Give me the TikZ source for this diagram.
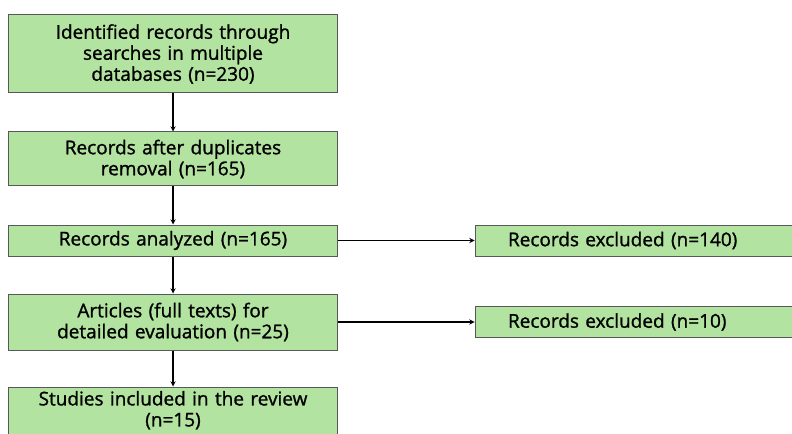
\documentclass[tikz,border=0pt]{standalone}
\usepackage{fontspec}
\setmainfont{Open Sans}[FakeBold=1.2, AutoFakeBold=1.2]
\usetikzlibrary{positioning}
\definecolor{boxGreen}{HTML}{B3E3A0}
\definecolor{boxEdge}{HTML}{585858}

\begin{document}
\begin{tikzpicture}[x=1bp, y=-1bp,
    node distance=37bp,
    stagebox/.style={fill=boxGreen, draw=boxEdge, line width=1bp,
                     minimum width=328bp, text width=320bp, align=center,
                     inner xsep=4bp, inner ysep=2bp,
                     font=\fontsize{19bp}{21bp}\selectfont\bfseries},
    exclbox/.style={stagebox, minimum width=0bp, text width=300bp,
                    align=left, inner xsep=33bp, minimum height=31bp},
    arrow/.style={->, >=stealth, line width=1.3bp}
]
\useasboundingbox (0,0) rectangle (792,434);
\node[stagebox, minimum height=78bp] (b1) at (173,54) {Identified records through\\
    searches in multiple\\ databases (n=230)};
\node[stagebox, minimum height=54bp, below=38bp of b1] (b2) {Records after duplicates\\
    removal (n=165)};
\node[stagebox, minimum height=31bp, below=38bp of b2] (b3) {Records analyzed (n=165)};
\node[stagebox, minimum height=56bp, below=of b3] (b4) {Articles (full texts) for\\
    detailed evaluation (n=25)};
% bottom of this box runs off the page
\node[stagebox, inner ysep=4bp, text depth=40bp, below=36bp of b4] (b5) {Studies included in the review\\
    (n=15)};
\node[exclbox, right=137bp of b3] (r1) {Records excluded (n=140)};
\node[exclbox, right=137bp of b4] (r2) {Records excluded (n=10)};
\draw[arrow] (b1) -- (b2);
\draw[arrow] (b2) -- (b3);
\draw[arrow] (b3) -- (b4);
\draw[arrow] (b4) -- (b5);
\draw[arrow] (b3) -- (r1);
\draw[arrow] (b4) -- (r2);
\end{tikzpicture}
\end{document}
